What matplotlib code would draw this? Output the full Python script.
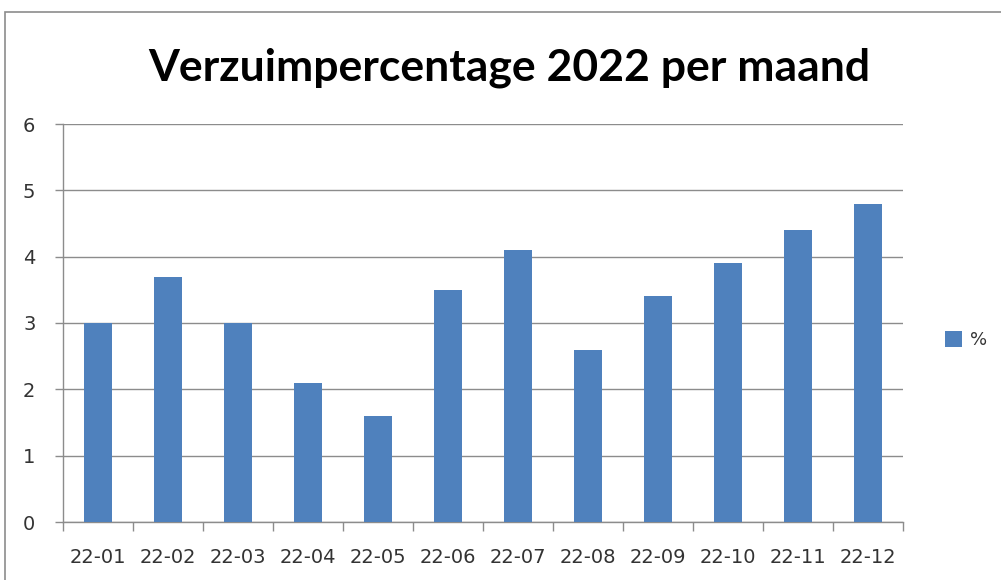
import matplotlib
matplotlib.use("Agg")
import matplotlib.pyplot as plt
from matplotlib.patches import Rectangle, Patch
import numpy as np

months = ["22-01", "22-02", "22-03", "22-04", "22-05", "22-06",
          "22-07", "22-08", "22-09", "22-10", "22-11", "22-12"]
values = [3.0, 3.7, 3.0, 2.1, 1.6, 3.5, 4.1, 2.6, 3.4, 3.9, 4.4, 4.8]
yticks = [0, 1, 2, 3, 4, 5, 6]
title = "Verzuimpercentage 2022 per maand"
series_name = "%"

W, H = 1001, 580
fig = plt.figure(figsize=(W / 100, H / 100), dpi=100)
fig.patch.set_facecolor("white")

# outer chart frame
frame = Rectangle((5 / W, -0.05), 1.1, (H - 12) / H + 0.05, transform=fig.transFigure,
                  fill=False, edgecolor="#8c8c8c", linewidth=1.2)
fig.patches.append(frame)

lab_font = ["DejaVu Sans"]
lab_color = "#333333"
lab_size = 14

ax = fig.add_axes([63 / W, (H - 522) / H, (903 - 63) / W, (522 - 124) / H])
x = np.arange(len(months))
ax.bar(x, values, width=0.4, color="#4F81BD", zorder=3, label=series_name)
ax.set_xlim(-0.5, len(months) - 0.5)
ax.set_ylim(0, 6)
ax.set_yticks(yticks)
ax.set_yticklabels([str(t) for t in yticks])
ax.yaxis.grid(True, color="#8c8c8c", linewidth=1.0, zorder=0)
ax.set_xticks(x)
ax.set_xticklabels(months)
ax.set_xticks(np.arange(-0.5, len(months)), minor=True)
ax.tick_params(axis="x", which="major", length=0, pad=19, labelsize=lab_size, labelcolor=lab_color)
ax.tick_params(axis="x", which="minor", length=6.5, color="#8c8c8c", width=1.0)
ax.tick_params(axis="y", length=5.8, color="#8c8c8c", width=1.0, pad=14, labelsize=lab_size, labelcolor=lab_color)
for lab in ax.get_xticklabels() + ax.get_yticklabels():
    lab.set_family(lab_font)
for s in ["top", "right"]:
    ax.spines[s].set_visible(False)
for s in ["left", "bottom"]:
    ax.spines[s].set_color("#8c8c8c")
    ax.spines[s].set_linewidth(1.0)

fig.text(509 / W, 1 - 80 / H, title, ha="center", va="baseline",
         fontsize=32, fontweight="bold", family=["Lato", "DejaVu Sans"], color="black")

leg = fig.legend(handles=[Patch(facecolor="#4F81BD", label=series_name)],
                 loc="center left", bbox_to_anchor=(929 / W, 1 - 340 / H),
                 frameon=False, handlelength=0.95, handleheight=0.95,
                 handletextpad=0.4, prop={"family": lab_font, "size": 13})
for t in leg.get_texts():
    t.set_color(lab_color)

fig.savefig("out.png", dpi=100, facecolor="white")
